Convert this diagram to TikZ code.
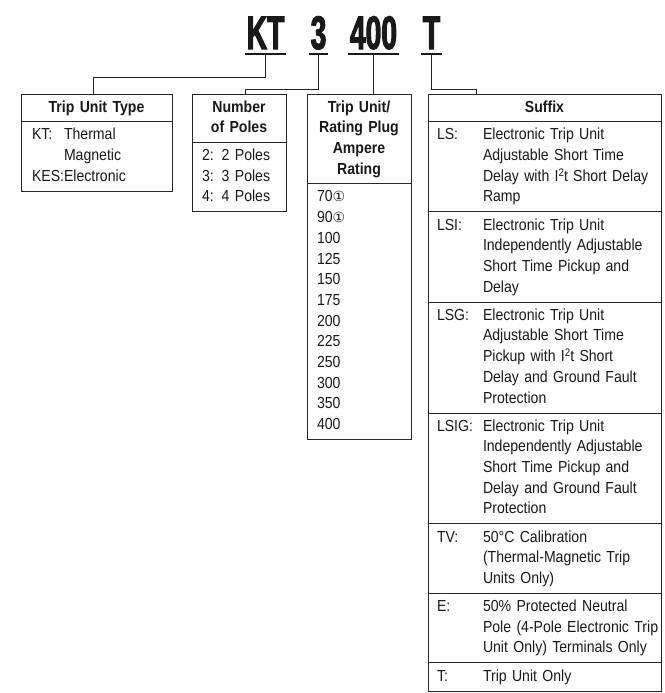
\documentclass[tikz,border=0pt]{standalone}
\usepackage{fontspec}
\usepackage{array}
\setmainfont{Liberation Sans}[FakeStretch=0.88]
\newfontfamily\titlefont{Liberation Sans}[FakeStretch=0.6,FakeBold=2.2]
\newfontfamily\symfont{DejaVu Sans}
\usetikzlibrary{positioning}

\newcommand{\one}{{\symfont\fontsize{14}{14}\selectfont ①}}
\newcommand{\sqr}{\raisebox{5pt}{\fontsize{11}{11}\selectfont 2}}
\newcommand{\centrows}[1]{\begin{tabular}{@{}c@{}}#1\end{tabular}}
\newcommand{\plainrows}[1]{\begin{tabular}{@{\hspace{10pt}}l@{}}#1\end{tabular}}
\newcommand{\labrows}[3]{\begin{tabular}{@{\hspace{#1}}p{#2}@{}l@{}}#3\end{tabular}}

\begin{document}
\begin{tikzpicture}[
        x=1pt, y=-1pt,
        font=\fontsize{16}{20.7}\selectfont,
        every node/.style={inner xsep=0pt, outer sep=0pt, text=black!90},
        head/.style={draw=black!85, line width=1pt, inner ysep=0pt, align=center, minimum height={#1*20.7pt+6.5pt}, font=\fontsize{16}{20.7}\selectfont\bfseries},
        body/.style={draw=black!85, line width=1pt, inner ysep=0pt, align=left, minimum height={#1*20.7pt+7.4pt}},
        code/.style={font=\titlefont\bfseries\fontsize{47}{47}\selectfont, inner xsep=1.5pt, inner ysep=5pt, text depth=0pt, anchor=base},
        uline/.style={line width=2.8pt, black!90},
        wire/.style={line width=0.9pt, black!85}
    ]
        \useasboundingbox (0,0) rectangle (664,693);

        % catalog number
        \node[code] (kt) at (265.5,49) {KT};
        \node[code] (pl) at (318.5,49) {3};
        \node[code] (amp) at (373.5,49) {400};
        \node[code] (sfx) at (431.5,49) {T};
        \foreach \n in {kt,pl,amp,sfx}
            \draw[uline] (\n.south west) -- (\n.south east);

        % trip unit type
        \node[head=1, text width=151pt, anchor=north west] (tuthead) at (21,94.5) {\centrows{Trip Unit Type}};
        \node[body=3, text width=151pt, below=0pt of tuthead] (tut) {\labrows{11pt}{32pt}{KT: & Thermal\\ & Magnetic\\ KES: & Electronic}};

        % poles
        \node[head=2, text width=94pt, anchor=north west] (polehead) at (192,94.5) {\centrows{Number\\ of Poles}};
        \node[body=3, text width=94pt, below=0pt of polehead] (poles) {\plainrows{2: 2 Poles\\ 3: 3 Poles\\ 4: 4 Poles}};

        % ampere rating
        \node[head=4, text width=104pt, anchor=north west] (ratehead) at (307,94.5) {\centrows{Trip Unit/\\ Rating Plug\\ Ampere\\ Rating}};
        \node[body=12, text width=104pt, below=0pt of ratehead] (rates) {\plainrows{70\one\\ 90\one\\ 100\\ 125\\ 150\\ 175\\ 200\\ 225\\ 250\\ 300\\ 350\\ 400}};

        % suffix
        \node[head=1, text width=233pt, anchor=north west] (sfxhead) at (428,94.5) {\centrows{Suffix}};
        \node[body=4, text width=233pt, below=0pt of sfxhead] (ls) {\labrows{9pt}{46pt}{LS: & Electronic Trip Unit\\ & Adjustable Short Time\\ & Delay with I\sqr t Short Delay\\ & Ramp}};
        \node[body=4, text width=233pt, below=0pt of ls] (lsi) {\labrows{9pt}{46pt}{LSI: & Electronic Trip Unit\\ & Independently Adjustable\\ & Short Time Pickup and\\ & Delay}};
        \node[body=5, text width=233pt, below=0pt of lsi] (lsg) {\labrows{9pt}{46pt}{LSG: & Electronic Trip Unit\\ & Adjustable Short Time\\ & Pickup with I\sqr t Short\\ & Delay and Ground Fault\\ & Protection}};
        \node[body=5, text width=233pt, below=0pt of lsg] (lsig) {\labrows{9pt}{46pt}{LSIG: & Electronic Trip Unit\\ & Independently Adjustable\\ & Short Time Pickup and\\ & Delay and Ground Fault\\ & Protection}};
        \node[body=3, text width=233pt, below=0pt of lsig] (tv) {\labrows{9pt}{46pt}{TV: & 50°C Calibration\\ & (Thermal-Magnetic Trip\\ & Units Only)}};
        \node[body=3, text width=233pt, below=0pt of tv] (neut) {\labrows{9pt}{46pt}{E: & 50\% Protected Neutral\\ & Pole (4-Pole Electronic Trip\\ & Unit Only) Terminals Only}};
        \node[body=1, text width=233pt, below=0pt of neut] (tonly) {\labrows{9pt}{46pt}{T: & Trip Unit Only}};

        % leaders
        \coordinate (ktbend) at (93,77);
        \coordinate (plbend) at (245,89);
        \coordinate (sfxbend) at (476,89);
        \draw[wire] (kt.south) |- (ktbend) -- (ktbend |- tuthead.north);
        \draw[wire] (pl.south) |- (plbend) -- (plbend |- polehead.north);
        \draw[wire] (amp.south) -- (amp.south |- ratehead.north);
        \draw[wire] (sfx.south) |- (sfxbend) -- (sfxbend |- sfxhead.north);
\end{tikzpicture}
\end{document}
